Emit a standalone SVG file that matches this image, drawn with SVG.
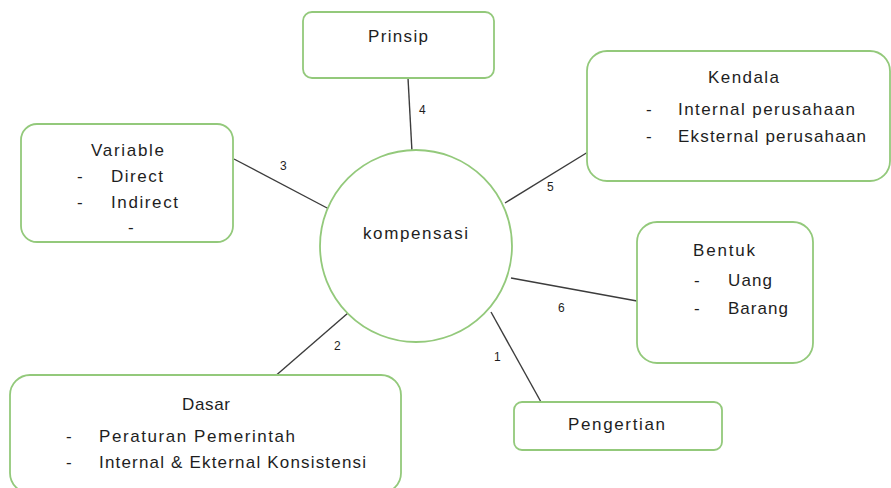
<svg xmlns="http://www.w3.org/2000/svg" width="891" height="488" viewBox="0 0 891 488">
<style>
.box{fill:#fff;stroke:#93c97b;stroke-width:1.8}
.t{font-family:"Liberation Sans","Open Sans",sans-serif;font-size:17px;fill:#1e1e1e}
.n{font-family:"Liberation Sans","Open Sans",sans-serif;font-size:12px;fill:#1e1e1e}
.c{stroke:#3c3c3c;stroke-width:1.4;fill:none}
</style>
<rect width="891" height="488" fill="#fff"/>
<g id="connectors">
<line class="c" x1="408" y1="78" x2="412" y2="152"/>
<line class="c" x1="234" y1="159" x2="329" y2="209"/>
<line class="c" x1="588" y1="152" x2="505" y2="203"/>
<line class="c" x1="511" y1="278" x2="637" y2="301"/>
<line class="c" x1="491" y1="312" x2="541" y2="402"/>
<line class="c" x1="348" y1="313" x2="273" y2="378"/>
<text class="n" x="419" y="114">4</text>
<text class="n" x="280" y="170">3</text>
<text class="n" x="547" y="191">5</text>
<text class="n" x="558" y="312">6</text>
<text class="n" x="494" y="361">1</text>
<text class="n" x="334" y="350">2</text>
</g>
<g id="kompensasi">
<circle cx="416" cy="246" r="96" fill="#fff" stroke="#93c97b" stroke-width="1.8"/>
<text class="t" x="363" y="239" textLength="105" lengthAdjust="spacing">kompensasi</text>
</g>
<g id="prinsip">
<rect class="box" x="303" y="12" width="191" height="66" rx="9"/>
<text class="t" x="368" y="42" textLength="60" lengthAdjust="spacing">Prinsip</text>
</g>
<g id="variable">
<rect class="box" x="21" y="124" width="212" height="118" rx="16"/>
<text class="t" x="91" y="156" textLength="73" lengthAdjust="spacing">Variable</text>
<text class="t" x="77" y="182">-</text>
<text class="t" x="111" y="182" textLength="52" lengthAdjust="spacing">Direct</text>
<text class="t" x="77" y="208">-</text>
<text class="t" x="111" y="208" textLength="67" lengthAdjust="spacing">Indirect</text>
<text class="t" x="128" y="233">-</text>
</g>
<g id="kendala">
<rect class="box" x="587" y="51" width="303" height="130" rx="20"/>
<text class="t" x="708" y="83" textLength="71" lengthAdjust="spacing">Kendala</text>
<text class="t" x="646" y="115">-</text>
<text class="t" x="678" y="115" textLength="177" lengthAdjust="spacing">Internal perusahaan</text>
<text class="t" x="646" y="142">-</text>
<text class="t" x="678" y="142" textLength="188" lengthAdjust="spacing">Eksternal perusahaan</text>
</g>
<g id="bentuk">
<rect class="box" x="637" y="222" width="176" height="141" rx="20"/>
<text class="t" x="693" y="256" textLength="62" lengthAdjust="spacing">Bentuk</text>
<text class="t" x="694" y="286">-</text>
<text class="t" x="728" y="286" textLength="44" lengthAdjust="spacing">Uang</text>
<text class="t" x="694" y="314">-</text>
<text class="t" x="728" y="314" textLength="60" lengthAdjust="spacing">Barang</text>
</g>
<g id="dasar">
<rect class="box" x="10" y="375" width="391" height="118" rx="20"/>
<text class="t" x="182" y="410" textLength="48" lengthAdjust="spacing">Dasar</text>
<text class="t" x="66" y="442">-</text>
<text class="t" x="99" y="442" textLength="196" lengthAdjust="spacing">Peraturan Pemerintah</text>
<text class="t" x="66" y="468">-</text>
<text class="t" x="99" y="468" textLength="267" lengthAdjust="spacing">Internal &amp; Ekternal Konsistensi</text>
</g>
<g id="pengertian">
<rect class="box" x="514" y="402" width="208" height="48" rx="8"/>
<text class="t" x="568" y="430" textLength="97" lengthAdjust="spacing">Pengertian</text>
</g>
</svg>
